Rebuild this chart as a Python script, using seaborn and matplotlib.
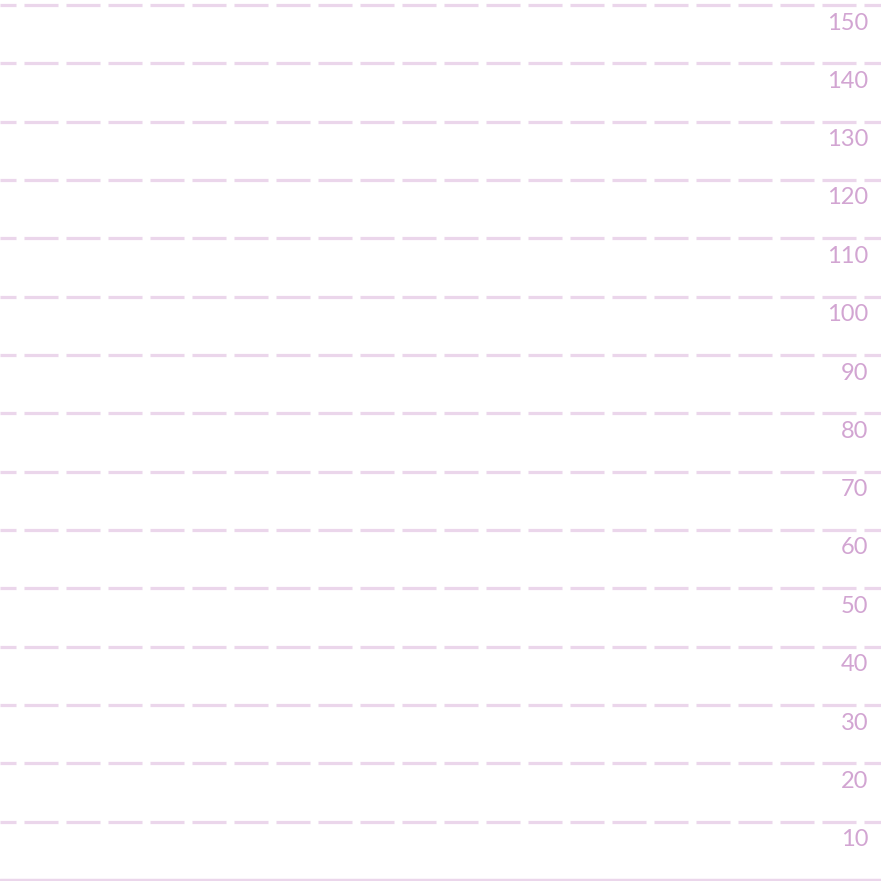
import matplotlib
matplotlib.use("Agg")
import matplotlib.pyplot as plt
import matplotlib.transforms as mtransforms
import seaborn as sns

# Data
tick_values = [10, 20, 30, 40, 50, 60, 70, 80, 90, 100, 110, 120, 130, 140, 150]
tick_labels = [str(v) for v in tick_values]
y_min, y_max = 0, 150

sns.set_theme(style="white")
plt.rcParams["font.family"] = ["Lato", "DejaVu Sans"]
plt.rcParams["lines.scale_dashes"] = False

grid_color = "#ebd6eb"
label_color = "#d2a5d2"

fig = plt.figure(figsize=(8.81, 8.81), dpi=100)
ax = fig.add_axes([0, 0, 1, 1])
px = 875 / 150.0
ax.set_ylim(y_min - 1 / px, y_max + 5 / px)
ax.set_xlim(0, 1)

# dashed gridlines
for v in tick_values:
    ax.axhline(v, color=grid_color, lw=2.3, linestyle=(12.96, (24.48, 5.76)),
               dash_capstyle="butt", zorder=1)
# solid baseline
ax.axhline(y_min, color=grid_color, lw=2.5, zorder=1)

trans = mtransforms.blended_transform_factory(ax.transAxes, ax.transData)
trans = mtransforms.offset_copy(trans, fig=fig, x=-0.125, y=-0.18, units="inches")
for v, lab in zip(tick_values, tick_labels):
    ax.text(1.0, v, lab, transform=trans, ha="right", va="center",
            fontsize=17, color=label_color, fontweight="normal")

ax.set_xticks([])
ax.set_yticks([])
for s in ax.spines.values():
    s.set_visible(False)

fig.savefig("out.png", dpi=100)
